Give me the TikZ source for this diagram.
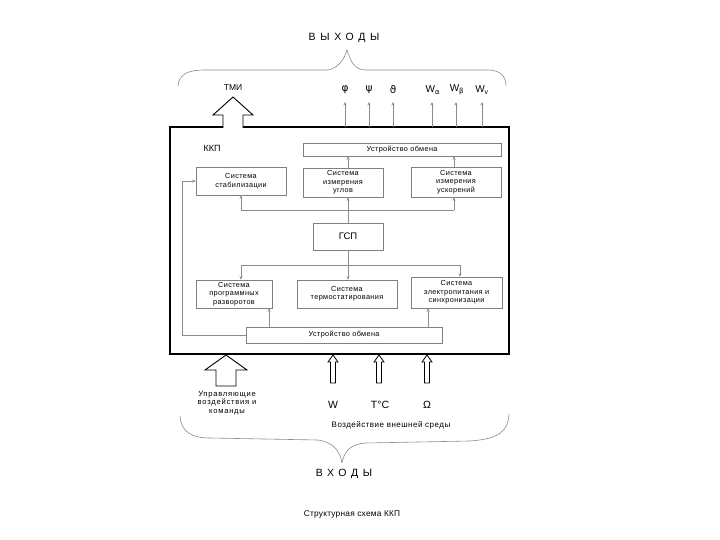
\documentclass[tikz,border=0pt]{standalone}
\usepackage{fontspec}
\setmainfont{Liberation Sans}
\newfontfamily\dvfont{DejaVu Sans}
\usetikzlibrary{arrows.meta}
\begin{document}
\begin{tikzpicture}[x=1pt,y=-1pt,
  blk/.style={draw=black!50, line width=0.6pt, fill=white, inner sep=0pt, align=center, text=black,
    font=\fontsize{7.3}{8.4}\selectfont\addfontfeature{LetterSpace=5}},
  ln/.style={draw=black!45, line width=0.5pt},
  arr/.style={ln, -{Stealth[length=3.5pt,width=3pt]}},
  hollow/.style={draw=black, line width=0.9pt, fill=white, line join=miter},
  brace/.style={draw=black!45, line width=0.6pt},
  lbl/.style={inner sep=0pt, text=black},
  big/.style={lbl, font=\fontsize{10.5}{12}\selectfont\addfontfeature{LetterSpace=45}},
]
\useasboundingbox (0,0) rectangle (720,540);
\fill[white] (0,0) rectangle (720,540);

% main box
\node[draw, line width=1.6pt, minimum width=339pt, minimum height=227pt, inner sep=0pt] (kkp) at (339.5,240.5) {};
\node[lbl, font=\fontsize{9}{10}\selectfont] (kkplbl) at (212,148) {ККП};

% inner blocks
\node[blk, minimum width=198pt, minimum height=13pt] (obm1) at (402,149.5) {Устройство обмена};
\node[blk, minimum width=90pt, minimum height=28pt] (stab) at (241,181) {Система\\стабилизации};
\node[blk, minimum width=80pt, minimum height=29pt] (ugl) at (343,182.5) {Система\\измерения\\углов};
\node[blk, minimum width=90pt, minimum height=30pt] (usk) at (456,182) {Система\\измерения\\ускорений};
\node[blk, minimum width=70pt, minimum height=27pt, font=\fontsize{9.5}{10}\selectfont] (gsp) at (348,236.5) {ГСП};
\node[blk, minimum width=76pt, minimum height=28pt] (razv) at (234,294) {Система\\программных\\разворотов};
\node[blk, minimum width=100pt, minimum height=28pt] (term) at (347,294) {Система\\термостатирования};
\node[blk, minimum width=91pt, minimum height=31pt] (elek) at (456.5,292.5) {Система\\электропитания и\\синхронизации};
\node[blk, minimum width=196pt, minimum height=16pt] (obm2) at (344,335) {Устройство обмена};

% bus coordinates
\coordinate (busU) at (348,210);
\coordinate (busL) at (348,265);
\coordinate (fbx) at (182,335);

% upper connections
\draw[arr] (ugl.north -| busU) -- (obm1.south -| busU);
\draw[arr] (usk.north -| 454,0) -- (obm1.south -| 454,0);
\draw[arr] (gsp.north) -- (ugl.south -| busU);
\draw[ln] (241,210) -- (454,210);
\draw[arr] (241,210) -- (stab.south -| 241,0);
\draw[arr] (454,210) -- (usk.south -| 454,0);

% lower connections
\draw[ln] (gsp.south) -- (busL);
\draw[ln] (241,265) -- (460,265);
\draw[arr] (241,265) -- (razv.north -| 241,0);
\draw[arr] (busL) -- (term.north -| busL);
\draw[arr] (460,265) -- (elek.north -| 460,0);
\draw[arr] (obm2.north -| 269,0) -- (razv.south -| 269,0);
\draw[arr] (obm2.north -| 428,0) -- (elek.south -| 428,0);

% feedback
\draw[arr] (obm2.west) -- (fbx) -- (fbx |- stab.west) -- (stab.west);

% outputs
\node[lbl, font=\fontsize{8.5}{9}\selectfont] (tmi) at (233,88) {ТМИ};
\draw[hollow] (223,128) -- (223,115) -- (213,115) -- (233,97) -- (253,115) -- (243,115) -- (243,128);

\node[lbl, font=\dvfont\fontsize{10.5}{11}\selectfont] (phi) at (345,90) {φ};
\node[lbl, font=\dvfont\fontsize{10.5}{11}\selectfont] (psi) at (369,90) {ψ};
\node[lbl, font=\dvfont\fontsize{10.5}{11}\selectfont] (tht) at (393,90) {ϑ};
\node[lbl, font=\fontsize{10}{11}\selectfont] (wa) at (433,90) {W\textsubscript{\dvfont α}};
\node[lbl, font=\fontsize{10}{11}\selectfont] (wb) at (457,90) {W\textsubscript{\dvfont β}};
\node[lbl, font=\fontsize{10}{11}\selectfont] (wv) at (482,90) {W\textsubscript{v}};
\foreach \n/\x in {phi/345,psi/369,tht/393,wa/432,wb/456,wv/482}{
  \draw[arr] (\x,127) -- (\x,102);
}

% inputs
\draw[hollow] (216,386) -- (216,370) -- (205,370) -- (226,355) -- (247,370) -- (236,370) -- (236,386) -- cycle;
\node[lbl, align=center, font=\fontsize{7.6}{8.2}\selectfont\addfontfeature{LetterSpace=10}] (upr) at (227,403) {Управляющие\\воздействия и\\команды};

\foreach \cx in {333,379,427}{
  \draw[hollow, line width=0.8pt] (\cx-2.5,383) -- (\cx-2.5,362) -- (\cx-5,362) -- (\cx,355) -- (\cx+5,362) -- (\cx+2.5,362) -- (\cx+2.5,383) -- cycle;
}
\node[lbl, font=\fontsize{10.5}{11}\selectfont] (w) at (333,405) {W};
\node[lbl, font=\fontsize{10.5}{11}\selectfont] (tc) at (380,405) {T°C};
\node[lbl, font=\fontsize{10.5}{11}\selectfont] (om) at (427,405) {Ω};
\node[lbl, font=\fontsize{8}{9}\selectfont\addfontfeature{LetterSpace=6}] (vozd) at (391,425) {Воздействие внешней среды};

% braces
\node[big] (vyh) at (344,38) {ВЫХОДЫ};
\draw[brace] (178,86) .. controls (179,74) and (188,70) .. (205,70) -- (328,70) .. controls (338,68) and (344,60) .. (347,50);
\draw[brace] (347,50) .. controls (350,60) and (354,70) .. (366,70) -- (488,70) .. controls (500,70) and (506,76) .. (506,86);

\node[big] (vh) at (344,474) {ВХОДЫ};
\draw[brace] (180,416) .. controls (181,432) and (192,438) .. (210,438) -- (318,440) .. controls (332,442) and (340,450) .. (342,463);
\draw[brace] (342,463) .. controls (344,452) and (350,444) .. (366,443) -- (470,441) .. controls (498,439) and (508,432) .. (509,414);

\node[lbl, font=\fontsize{8.3}{9}\selectfont\addfontfeature{LetterSpace=3}] (cap) at (352,514) {Структурная схема ККП};
\end{tikzpicture}
\end{document}
